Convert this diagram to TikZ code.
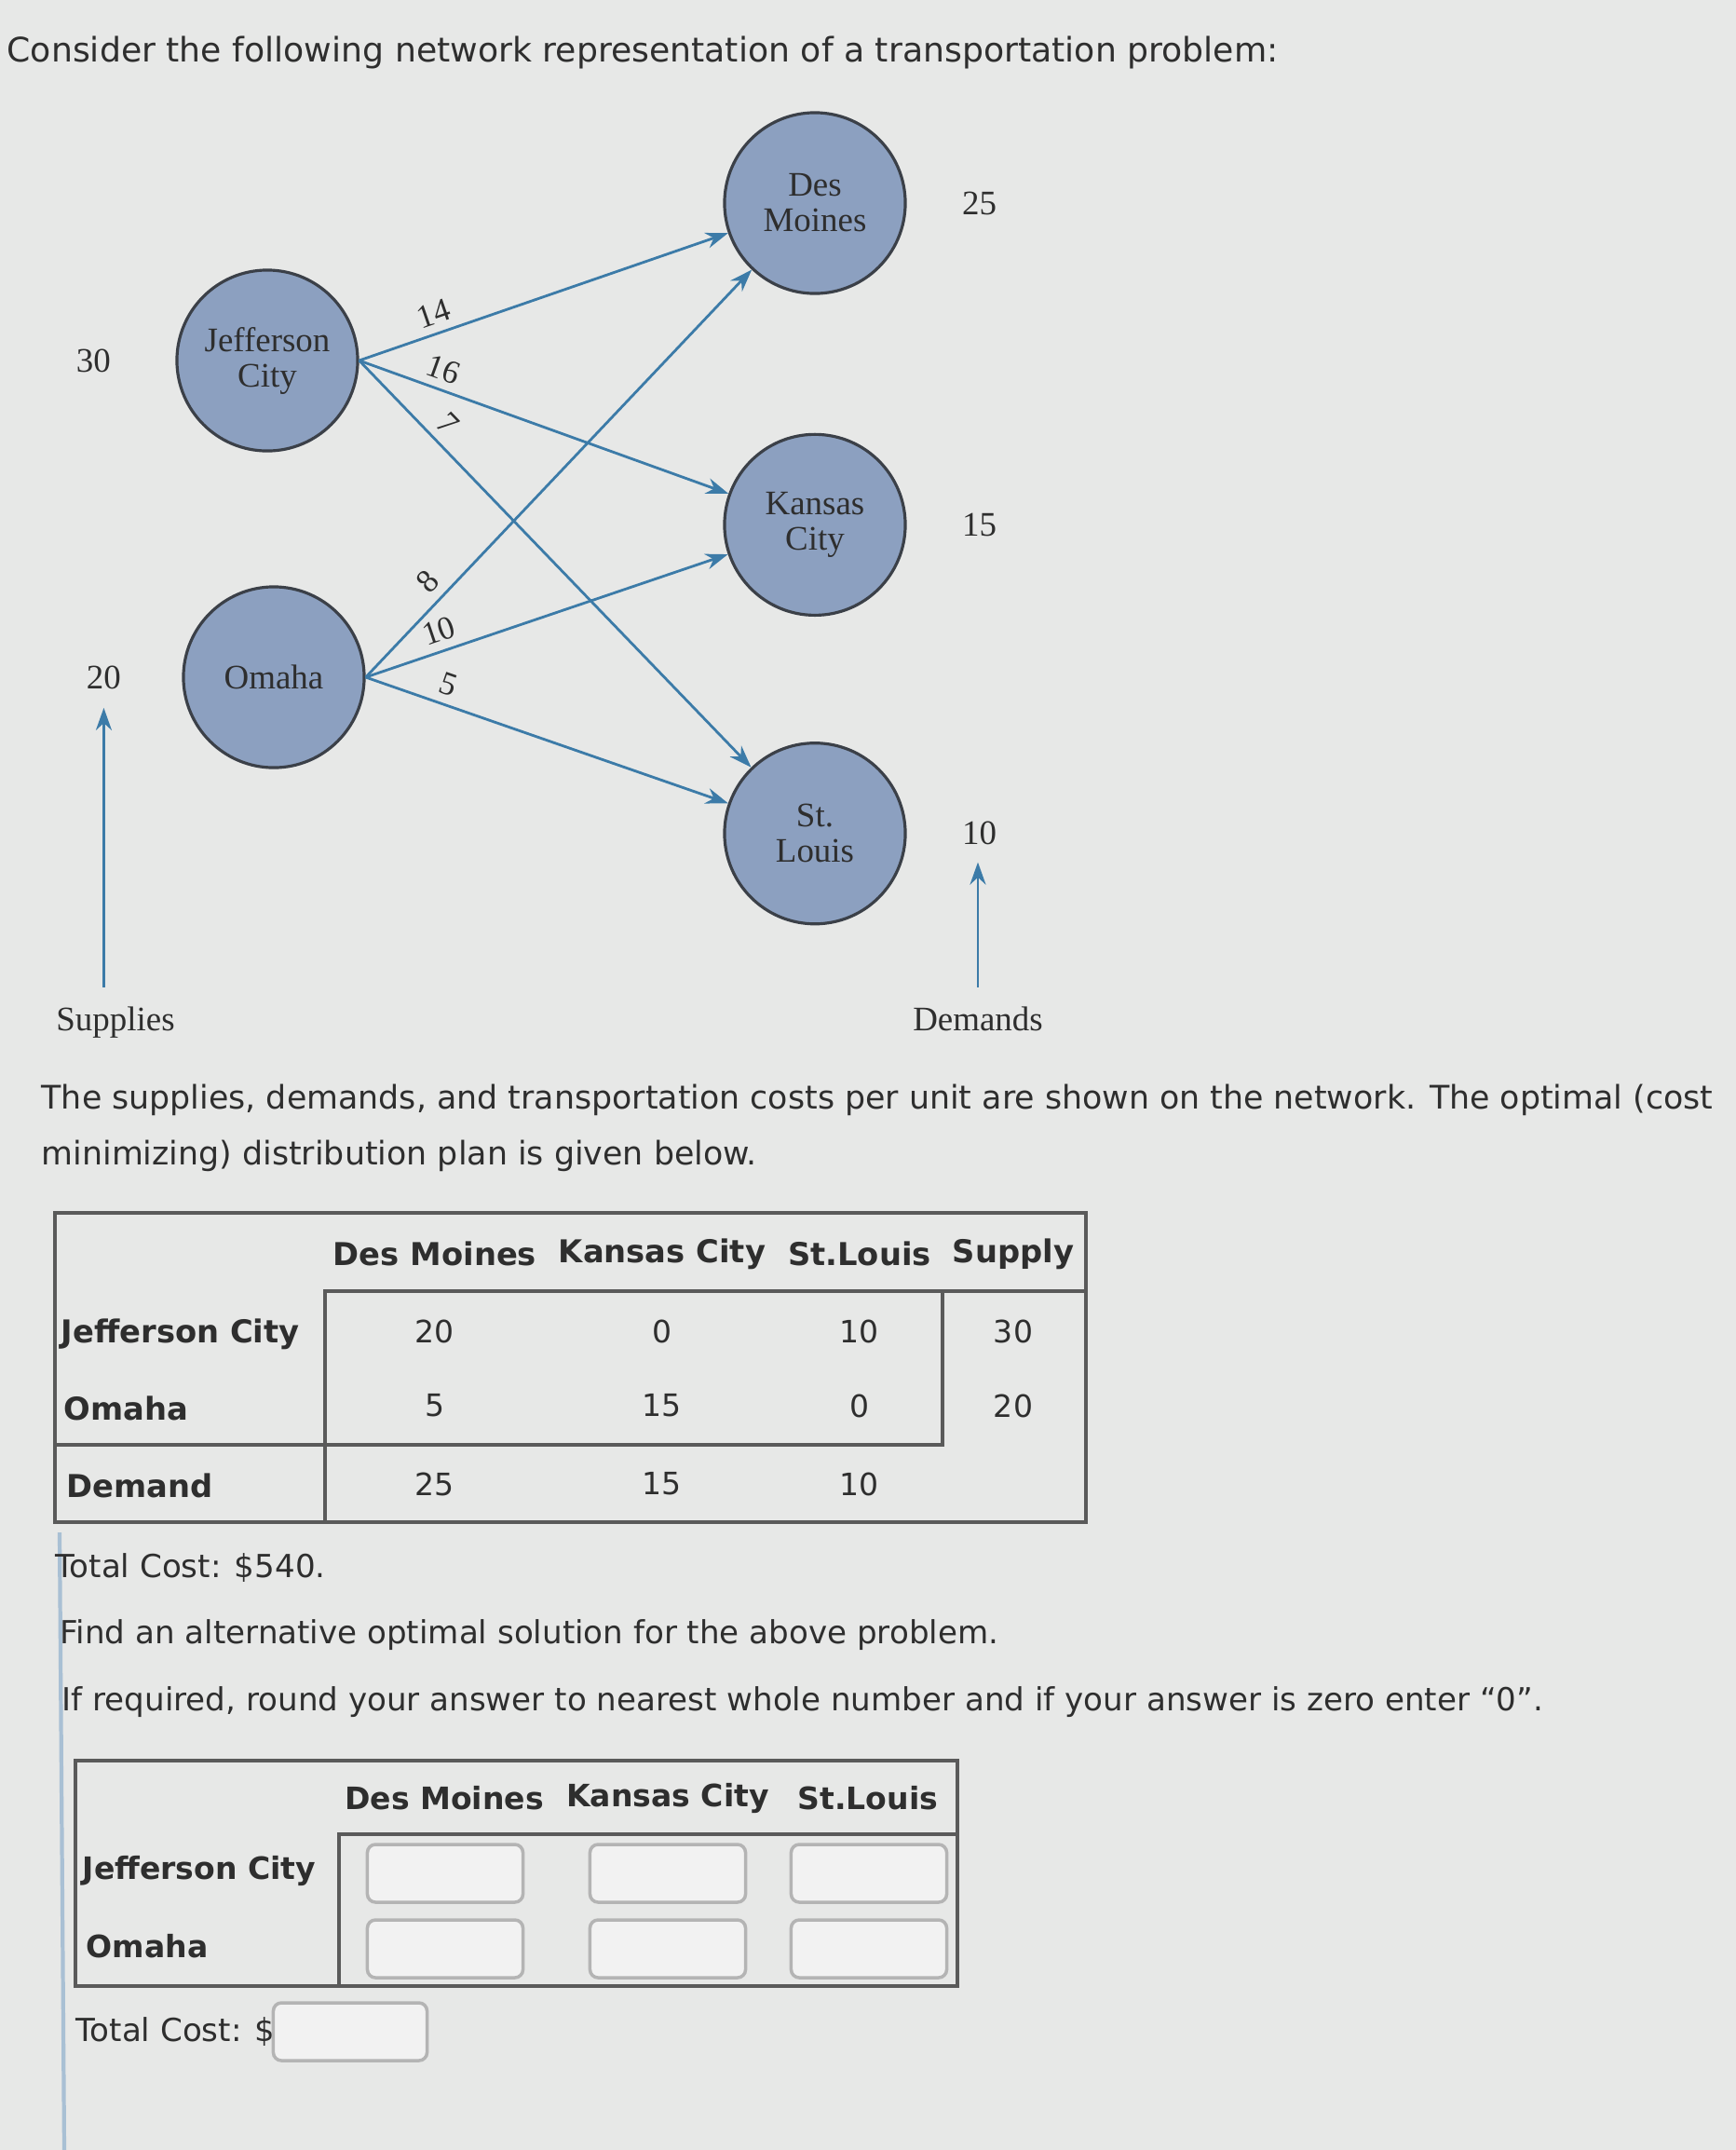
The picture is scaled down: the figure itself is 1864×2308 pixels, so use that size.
\documentclass[tikz,border=0pt]{standalone}
\usepackage{fontspec}
\setmainfont{DejaVu Sans}
\newfontfamily\netfont{Liberation Serif}
\usetikzlibrary{positioning, arrows.meta}

\definecolor{bgpage}{HTML}{E7E8E7}
\definecolor{cityfill}{HTML}{8CA0C0}
\definecolor{cityline}{HTML}{3B4048}
\definecolor{edgeblue}{HTML}{3C7BA8}
\definecolor{inktext}{HTML}{2E2E2E}
\definecolor{gridline}{HTML}{5A5A5A}
\definecolor{boxline}{HTML}{B4B4B4}
\definecolor{sideline}{HTML}{A9C0D4}

\begin{document}
\begin{tikzpicture}[
    x=0.01cm, y=-0.01cm,
    >={Stealth[length=2.4mm,width=1.7mm]},
    city/.style={circle, draw=cityline, line width=0.9pt, fill=cityfill, minimum size=1.94cm, inner sep=0pt, align=center, font=\netfont\fontsize{10.5}{10.8}\selectfont, text=inktext},
    amount/.style={font=\netfont\fontsize{10.5}{12}\selectfont, text=inktext},
    route/.style={->, draw=edgeblue, line width=0.8pt},
    cost/.style={sloped, above, font=\netfont\fontsize{10}{12}\selectfont, text=inktext, inner sep=2.5pt},
    prose/.style={anchor=west, font=\fontsize{9.7}{17}\selectfont, text=inktext, align=left, inner sep=0pt},
    colhead/.style={font=\bfseries\fontsize{9.6}{11}\selectfont, text=inktext},
    rowhead/.style={anchor=west, font=\bfseries\fontsize{9.6}{11}\selectfont, text=inktext, inner sep=0pt},
    cell/.style={font=\fontsize{9.4}{11}\selectfont, text=inktext},
    answer/.style={draw=boxline, line width=1pt, rounded corners=2.5pt, fill=white!45!bgpage, minimum width=1.67cm, minimum height=0.62cm},
    font=\small
  ]
    \fill[bgpage] (0,0) rectangle (1864,2308);
    \useasboundingbox (0,0) rectangle (1864,2308);
    \draw[sideline, line width=1.2pt] (64,1645) -- (69,2308);

    \node[prose, font=\fontsize{10.3}{17}\selectfont] (title) at (7,56) {Consider the following network representation of a transportation problem:};

    % network
    \node[city] (jc) at (287,387) {Jefferson\\City};
    \node[city] (om) at (294,727) {Omaha};
    \node[city] (dm) at (875,218) {Des\\Moines};
    \node[city, below=1.48cm of dm] (kc) {Kansas\\City};
    \node[city, below=1.34cm of kc] (sl) {St.\\Louis};

    \node[amount, left=0.57cm of jc] (s30) {30};
    \node[amount, left=0.53cm of om] (s20) {20};
    \node[amount, right=0.47cm of dm] (d25) {25};
    \node[amount, right=0.47cm of kc] (d15) {15};
    \node[amount, right=0.47cm of sl] (d10) {10};

    \draw[route] (jc.east) -- node[cost, pos=0.22] {14} (dm);
    \draw[route] (jc.east) -- node[cost, pos=0.21] {16} (kc);
    \draw[route] (jc.east) -- node[cost, pos=0.19] {7} (sl);
    \draw[route] (om.east) -- node[cost, pos=0.2] {8} (dm);
    \draw[route] (om.east) -- node[cost, pos=0.22] {10} (kc);
    \draw[route] (om.east) -- node[cost, pos=0.21] {5} (sl);

    \node[amount, anchor=west] (supplies) at (48,1098) {Supplies};
    \node[amount] (demands) at (1050,1094) {Demands};
    \draw[route, shorten <=0.9mm, shorten >=0.8mm] (supplies.north -| s20) -- (s20.south);
    \draw[route, shorten <=0.9mm, shorten >=0.6mm] (demands.north) -- (demands.north |- d10.south);

    \node[prose, font=\fontsize{9.9}{17}\selectfont] (intro) at (44,1211) {The supplies, demands, and transportation costs per unit are shown on the network. The optimal (cost\\minimizing) distribution plan is given below.};

    % optimal plan
    \draw[gridline, line width=0.9pt] (59,1302) rectangle (1166,1634);
    \draw[gridline, line width=0.9pt] (349,1634) -- (349,1386) -- (1166,1386);
    \draw[gridline, line width=0.9pt] (59,1551) -- (1012,1551) -- (1012,1386);
    \node[colhead] (hdm) at (467,1346) {Des Moines};
    \node[colhead] (hkc) at (711,1346) {Kansas City};
    \node[colhead] (hsl) at (923,1346) {St.Louis};
    \node[colhead] (hsup) at (1088,1346) {Supply};
    \node[rowhead] (rjc) at (65,1432) {Jefferson City};
    \node[rowhead] (rom) at (68,1512) {Omaha};
    \node[rowhead] (rdem) at (71,1595) {Demand};
    \node[cell] at (467,1429) {20};
    \node[cell] at (711,1429) {0};
    \node[cell] at (923,1429) {10};
    \node[cell] at (1088,1429) {30};
    \node[cell] at (467,1509) {5};
    \node[cell] at (711,1509) {15};
    \node[cell] at (923,1509) {0};
    \node[cell] at (1088,1509) {20};
    \node[cell] at (467,1593) {25};
    \node[cell] at (711,1593) {15};
    \node[cell] at (923,1593) {10};

    \node[prose] (cost) at (59,1683) {Total Cost: \$540.};
    \node[prose] (task) at (64,1755) {Find an alternative optimal solution for the above problem.};
    \node[prose] (hint) at (66,1827) {If required, round your answer to nearest whole number and if your answer is zero enter ``0''.};

    % alternative plan
    \draw[gridline, line width=0.9pt] (81,1890) rectangle (1028,2132);
    \draw[gridline, line width=0.9pt] (364,2132) -- (364,1969) -- (1028,1969);
    \node[colhead, font=\bfseries\fontsize{9.4}{11}\selectfont] (adm) at (477,1930) {Des Moines};
    \node[colhead, font=\bfseries\fontsize{9.4}{11}\selectfont] (akc) at (717,1930) {Kansas City};
    \node[colhead, font=\bfseries\fontsize{9.4}{11}\selectfont] (asl) at (932,1930) {St.Louis};
    \node[rowhead, font=\bfseries\fontsize{9.4}{11}\selectfont] (ajc) at (88,2008) {Jefferson City};
    \node[rowhead, font=\bfseries\fontsize{9.4}{11}\selectfont] (aom) at (92,2089) {Omaha};
    \node[answer] (b11) at (478,2011) {};
    \node[answer] (b12) at (717,2011) {};
    \node[answer] (b13) at (933,2011) {};
    \node[answer] (b21) at (478,2092) {};
    \node[answer] (b22) at (717,2092) {};
    \node[answer] (b23) at (933,2092) {};
    \node[prose] (tclabel) at (81,2181) {Total Cost: \$};
    \node[answer, minimum width=1.65cm] (tcbox) at (376,2181) {};
  \end{tikzpicture}
\end{document}
